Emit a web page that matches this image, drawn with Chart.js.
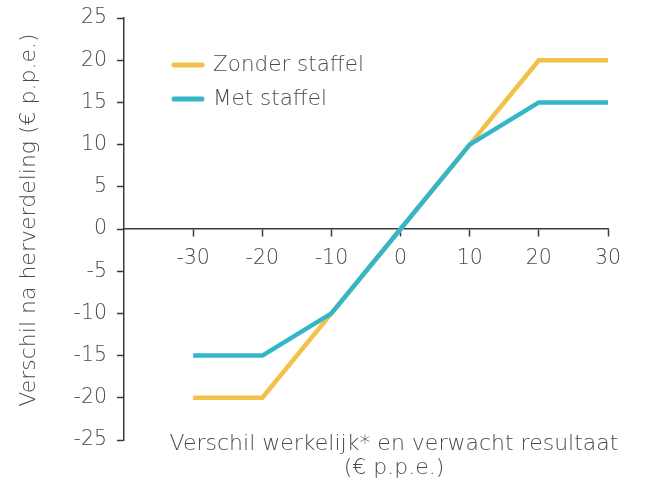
<!DOCTYPE html>
<html lang="nl">
<head>
  <meta charset="UTF-8">
  <title>Staffel herverdeling</title>
  <script src="https://cdn.jsdelivr.net/npm/chart.js"></script>
  <style>
    body { margin: 0; background: #fff; }
    #wrap { width: 649px; height: 486px; }
  </style>
</head>
<body>
  <div id="wrap"><canvas id="chart" width="649" height="486"></canvas></div>
  <script>
    // data
    const xValues = [-30, -20, -10, 0, 10, 20, 30];
    const zonderStaffel = [-20, -20, -10, 0, 10, 20, 20];
    const metStaffel = [-15, -15, -10, 0, 10, 15, 15];
    const xTicks = [-30, -20, -10, 0, 10, 20, 30];
    const yTicks = [-25, -20, -15, -10, -5, 0, 5, 10, 15, 20, 25];
    const seriesNames = ['Zonder staffel', 'Met staffel'];
    const xTitle = ['Verschil werkelijk* en verwacht resultaat', '(€ p.p.e.)'];
    const yTitle = 'Verschil na herverdeling (€ p.p.e.)';

    const yellow = '#f3c04a';
    const teal = '#35b6c8';
    const textColor = '#4a4a4a';
    const axisColor = '#3a3a3a';
    const family = '"DejaVu Sans", sans-serif';
    const tickFont = { family, size: 20.5, weight: 200 };
    const titleFont = { family, size: 22, weight: 200 };

    const toPoints = ys => xValues.map((x, i) => ({ x, y: ys[i] }));

    // legend inside the plot and the two axis titles, placed like the original
    const annotations = {
      id: 'annotations',
      afterDraw(chart) {
        const { ctx, chartArea } = chart;
        ctx.save();
        ctx.fillStyle = textColor;
        ctx.textBaseline = 'middle';

        const left = chartArea.left + 50;
        let y = chartArea.top + 47;
        ctx.font = `${titleFont.weight} 21.5px ${family}`;
        chart.data.datasets.forEach(ds => {
          ctx.strokeStyle = ds.borderColor;
          ctx.lineWidth = 5;
          ctx.lineCap = 'round';
          ctx.beginPath();
          ctx.moveTo(left, y);
          ctx.lineTo(left + 28, y);
          ctx.stroke();
          ctx.fillText(ds.label, left + 39, y);
          y += 34;
        });

        ctx.font = `${titleFont.weight} ${titleFont.size}px ${family}`;
        ctx.textAlign = 'center';
        const cx = (chartArea.left + chartArea.right) / 2 + 28;
        xTitle.forEach((line, i) => ctx.fillText(line, cx, chartArea.bottom + 4 + i * 24));

        ctx.translate(29, (chartArea.top + chartArea.bottom) / 2 - 9);
        ctx.rotate(-Math.PI / 2);
        ctx.fillText(yTitle, 0, 0);
        ctx.restore();
      }
    };

    new Chart(document.getElementById('chart'), {
      type: 'line',
      data: {
        datasets: [
          { label: seriesNames[0], data: toPoints(zonderStaffel), borderColor: yellow, backgroundColor: yellow, order: 2 },
          { label: seriesNames[1], data: toPoints(metStaffel), borderColor: teal, backgroundColor: teal, order: 1 }
        ]
      },
      options: {
        responsive: false,
        animation: false,
        layout: { padding: { top: 18, right: 41, left: 10, bottom: 46 } },
        elements: {
          line: { borderWidth: 4.5, tension: 0, borderJoinStyle: 'round' },
          point: { radius: 0 }
        },
        plugins: {
          legend: { display: false },
          tooltip: { enabled: false }
        },
        scales: {
          x: {
            type: 'linear',
            min: -40,
            max: 30,
            position: { y: 0 },
            afterBuildTicks: axis => { axis.ticks = xTicks.map(v => ({ value: v })); },
            grid: { drawOnChartArea: false, tickLength: 7, color: axisColor, tickWidth: 1.5 },
            border: { color: axisColor, width: 1.5 },
            ticks: { color: textColor, font: tickFont, padding: 10, maxRotation: 0 }
          },
          y: {
            type: 'linear',
            min: -25,
            max: 25,
            position: 'left',
            afterBuildTicks: axis => { axis.ticks = yTicks.map(v => ({ value: v })); },
            afterFit: s => { s.width = 114; s.paddingTop = 0; s.paddingBottom = 0; },
            grid: { drawOnChartArea: false, tickLength: 7, color: axisColor, tickWidth: 1.5 },
            border: { color: axisColor, width: 1.5 },
            ticks: { color: textColor, font: tickFont, padding: 10 }
          }
        }
      },
      plugins: [annotations]
    });
  </script>
</body>
</html>
